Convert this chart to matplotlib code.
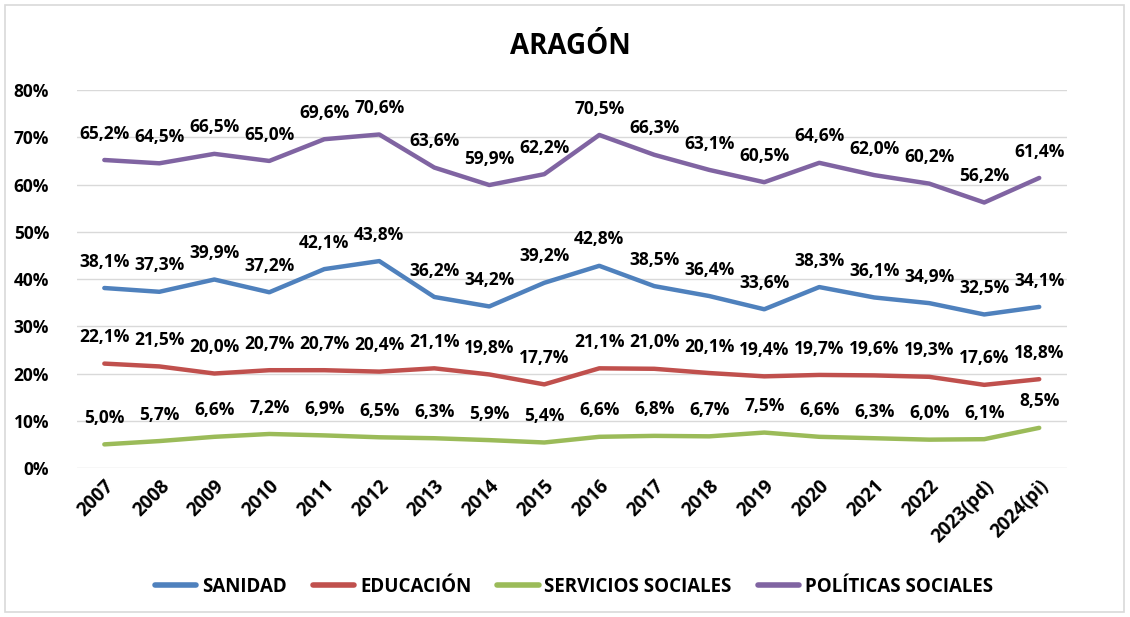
import matplotlib
matplotlib.use("Agg")
import matplotlib.pyplot as plt
from matplotlib.patches import Rectangle
from matplotlib.ticker import FuncFormatter

years = ["2007", "2008", "2009", "2010", "2011", "2012", "2013", "2014", "2015",
         "2016", "2017", "2018", "2019", "2020", "2021", "2022", "2023(pd)", "2024(pi)"]
sanidad = [38.1, 37.3, 39.9, 37.2, 42.1, 43.8, 36.2, 34.2, 39.2, 42.8, 38.5, 36.4,
           33.6, 38.3, 36.1, 34.9, 32.5, 34.1]
educacion = [22.1, 21.5, 20.0, 20.7, 20.7, 20.4, 21.1, 19.8, 17.7, 21.1, 21.0, 20.1,
             19.4, 19.7, 19.6, 19.3, 17.6, 18.8]
servicios = [5.0, 5.7, 6.6, 7.2, 6.9, 6.5, 6.3, 5.9, 5.4, 6.6, 6.8, 6.7, 7.5, 6.6,
             6.3, 6.0, 6.1, 8.5]
politicas = [65.2, 64.5, 66.5, 65.0, 69.6, 70.6, 63.6, 59.9, 62.2, 70.5, 66.3, 63.1,
             60.5, 64.6, 62.0, 60.2, 56.2, 61.4]
series_names = ["SANIDAD", "EDUCACIÓN", "SERVICIOS SOCIALES", "POLÍTICAS SOCIALES"]
colors = ["#4F81BD", "#C0504D", "#9BBB59", "#8064A2"]
title = "ARAGÓN"

plt.rcParams['font.family'] = ['Open Sans', 'DejaVu Sans']
plt.rcParams['font.weight'] = 'bold'

FS = 12.5

fig = plt.figure(figsize=(11.3, 6.17), dpi=100)
ax = fig.add_axes([0.068, 0.2415, 0.876, 0.6125])

x = list(range(len(years)))
all_series = [sanidad, educacion, servicios, politicas]
for name, vals, c in zip(series_names, all_series, colors):
    ax.plot(x, [v / 100 for v in vals], color=c, lw=3.2, label=name,
            solid_capstyle='round', solid_joinstyle='round', zorder=3)
    for xi, v in zip(x, vals):
        ax.annotate(f"{v:.1f}%".replace(".", ","), (xi, v / 100),
                    xytext=(0, 19), textcoords='offset points',
                    ha='center', va='center', fontsize=FS, fontweight='bold',
                    color='black', zorder=4)

ax.set_xlim(-0.5, len(years) - 0.5)
ax.set_ylim(0, 0.8)
ax.set_yticks([i / 10 for i in range(9)])
ax.yaxis.set_major_formatter(FuncFormatter(lambda v, p: f"{round(v*100)}%"))
ax.grid(axis='y', color='#D9D9D9', lw=1)
ax.set_axisbelow(True)
for s in ax.spines.values():
    s.set_visible(False)
ax.tick_params(axis='y', length=0, labelsize=FS, pad=20)
ax.set_xticks(x)
ax.set_xticklabels(years, rotation=45, ha='right', va='top', rotation_mode='anchor',
                   fontweight='bold')
ax.tick_params(axis='x', length=0, labelsize=13.5, pad=6)
for lbl in ax.get_yticklabels():
    lbl.set_fontweight('bold')

fig.text(0.505, 0.925, title, ha='center', va='center', fontsize=20, fontweight='bold')

leg = fig.legend(loc='center', bbox_to_anchor=(0.508, 0.049), ncol=4, frameon=False,
                 fontsize=13.5, handlelength=2.2, handletextpad=0.3, columnspacing=1.4)
for line in leg.get_lines():
    line.set_linewidth(4)
for t in leg.get_texts():
    t.set_fontweight('bold')

fig.patches.append(Rectangle((0.004, 0.008), 0.991, 0.984, transform=fig.transFigure,
                             fill=False, edgecolor='#D9D9D9', lw=1.2))

fig.savefig("out.png", dpi=100)
